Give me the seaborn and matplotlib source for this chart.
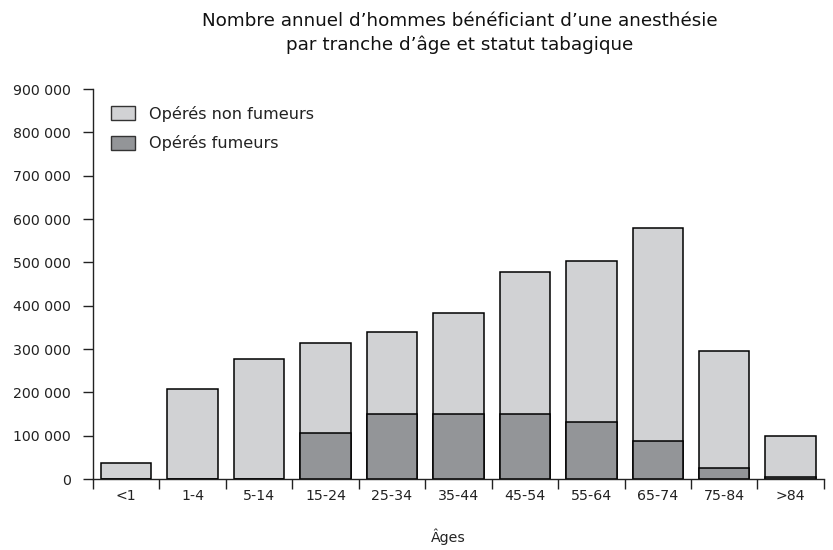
import matplotlib
matplotlib.use("Agg")
import matplotlib.pyplot as plt
from matplotlib.patches import Patch
from matplotlib.ticker import FuncFormatter, FixedLocator
import numpy as np
import pandas as pd
import seaborn as sns

# ── data ─────────────────────────────────────────────────────────────────────
ages = ["<1", "1-4", "5-14", "15-24", "25-34", "35-44", "45-54",
        "55-64", "65-74", "75-84", ">84"]
fumeurs = [0, 0, 0, 106000, 151000, 151000, 151000, 132000, 88000, 25000, 5000]
non_fumeurs = [37000, 208000, 277000, 208000, 188000, 232000, 328000,
               371000, 491000, 270000, 95000]

df = pd.DataFrame({"age": ages, "fumeurs": fumeurs, "non_fumeurs": non_fumeurs})
df["total"] = df["fumeurs"] + df["non_fumeurs"]

LIGHT = "#d1d2d4"
DARK = "#939598"
INK = "#222222"

sns.set_theme(style="white")
plt.rcParams["font.family"] = ["DejaVu Sans"]

fig = plt.figure(figsize=(8.33, 5.5), dpi=100)
ax = fig.add_axes([0.1116, 0.129, 0.8775, 0.709])

# stacked: total (light) behind, smokers (dark) in front
sns.barplot(data=df, x="age", y="total", color=LIGHT, edgecolor="black",
            linewidth=1.1, width=0.76, saturation=1, ax=ax)
sns.barplot(data=df, x="age", y="fumeurs", color=DARK, edgecolor="black",
            linewidth=1.1, width=0.76, saturation=1, ax=ax)

ax.set_xlim(-0.5, len(ages) - 0.5)
ax.set_ylim(0, 900000)
ax.set_yticks(np.arange(0, 900001, 100000))
ax.yaxis.set_major_formatter(FuncFormatter(lambda v, p: f"{int(v):,}".replace(",", " ")))

# ticks: y outward, x ticks at category boundaries
ax.tick_params(axis="y", left=True, direction="out", length=7.2, width=1,
               color=INK, labelsize=10.2, labelcolor=INK, pad=8.5)
ax.tick_params(axis="x", which="major", bottom=True, length=0, labelsize=10.2,
               labelcolor=INK, pad=7)
ax.xaxis.set_minor_locator(FixedLocator(np.arange(-0.5, len(ages), 1.0)))
ax.tick_params(axis="x", which="minor", bottom=True, direction="out",
               length=7.5, width=1, color=INK)

for s in ["top", "right"]:
    ax.spines[s].set_visible(False)
for s in ["left", "bottom"]:
    ax.spines[s].set_color(INK)
    ax.spines[s].set_linewidth(1)

ax.set_ylabel("")
ax.set_xlabel("Âges", fontsize=10.2, color=INK)
ax.xaxis.set_label_coords(0.486, -0.128)

fig.text(0.552, 0.978, "Nombre annuel d\u2019hommes bénéficiant d\u2019une anesthésie\n"
         "par tranche d\u2019âge et statut tabagique",
         ha="center", va="top", fontsize=13.2, color="#111111", linespacing=1.38)

handles = [Patch(facecolor=LIGHT, edgecolor="#333333", label="Opérés non fumeurs"),
           Patch(facecolor=DARK, edgecolor="#333333", label="Opérés fumeurs")]
ax.legend(handles=handles, loc="upper left", bbox_to_anchor=(0.005, 0.995),
          frameon=False, fontsize=11.6, handlelength=1.5, handleheight=1.0,
          handletextpad=0.85, labelspacing=0.85, labelcolor=INK)

fig.savefig("out.png", dpi=100)
